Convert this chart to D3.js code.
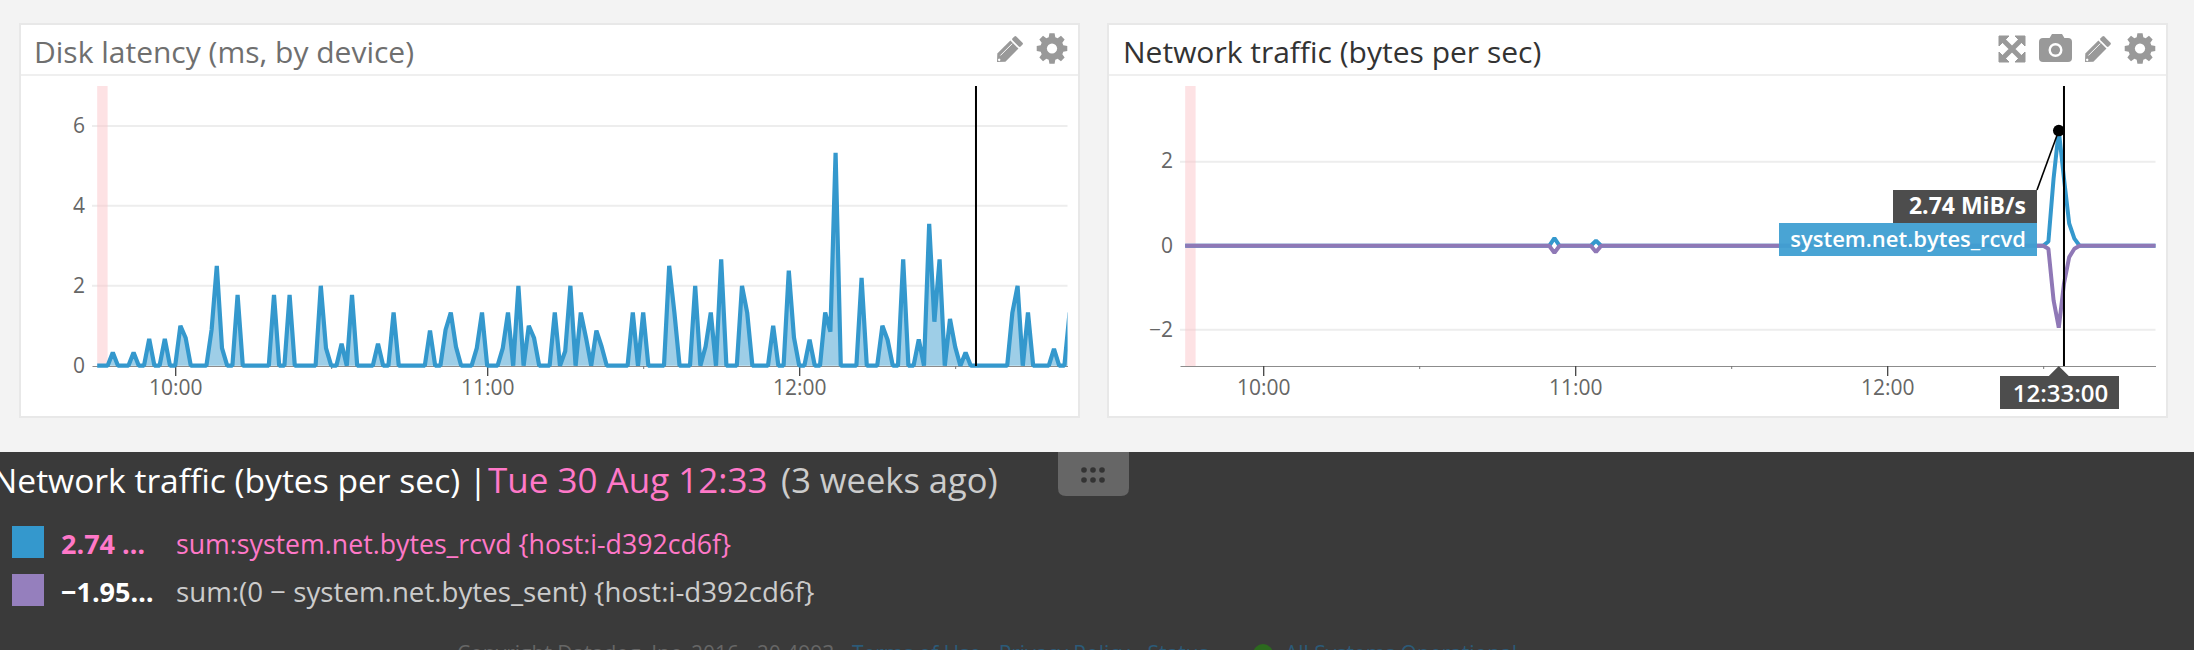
<!DOCTYPE html>
<html><head><meta charset="utf-8">
<script src="https://cdn.jsdelivr.net/npm/d3@7"></script>
<style>
html,body{margin:0;padding:0;background:#f3f3f3;overflow:hidden}
svg{display:block}
text{font-family:"Open Sans",sans-serif}
</style></head><body><svg id="c" width="2194" height="650"></svg>
<script>
// ---------- data ----------
const diskTitle = "Disk latency (ms, by device)";
const netTitle = "Network traffic (bytes per sec)";
const majorTimes = [[10,0],[11,0],[12,0]];
const minorTimes = [[10,30],[11,30],[12,30]];
const diskYTicks = [0,2,4,6];
const netYTicks = [-2,0,2];
// one sample a minute from 09:45
const diskLatency = [0,0,0,.33,0,0,0,.33,0,0,.67,0,0,.67,0,0,1,.7,0,0,0,0,.9,2.5,.44,0,0,1.77,0,0,0,0,0,0,1.77,0,0,1.77,0,0,0,0,0,2,.44,0,0,.55,0,1.77,0,0,0,0,.55,0,0,1.33,0,0,0,0,0,0,.88,0,0,.9,1.33,.47,0,0,0,.44,1.33,0,0,0,.44,1.33,0,2,0,1,.7,0,0,0,1.33,0,.36,2,0,1.33,.7,0,.88,.48,0,0,0,0,0,1.33,0,1.33,0,0,0,0,2.5,1.33,0,0,0,2,0,.48,1.33,0,2.66,0,0,0,2,1.33,0,0,0,0,1,0,0,2.38,.7,0,0,.65,0,0,1.33,.85,5.33,0,0,0,0,2.2,0,0,0,1,.65,0,0,2.66,0,0,.66,0,3.55,1.1,2.66,0,1.17,.47,0,.33,0,0,0,0,0,0,0,0,1.33,2,0,1.33,0,0,0,0,.42,0,0,1.33];
// network: minutes after 09:45 at which the flat line changes
const netMinutes = [0,70,71,72,78,79,80,165,166,167,168,169,170,171,172,187];
const netRcvd = [0,0,.18,0,0,.12,0,0,.1,1.6,2.74,1.6,.53,.17,0,0];
const netSent = [0,0,-.17,0,0,-.15,0,0,-.07,-1.3,-1.95,-.9,-.27,-.07,0,0];
const hoverLabel = "2.74 MiB/s", hoverSeries = "system.net.bytes_rcvd", hoverTime = "12:33:00";
const footTitle = "Network traffic (bytes per sec) |", footDate = "Tue 30 Aug 12:33", footAgo = "(3 weeks ago)";
const legendValues = ["2.74 …","−1.95…"];
const legendNames = ["sum:system.net.bytes_rcvd {host:i-d392cd6f}","sum:(0 − system.net.bytes_sent) {host:i-d392cd6f}"];

// ---------- helpers ----------
const BLUE="#3498cd", PURPLE="#8f78b6";
const day=(h,m)=>new Date(2016,7,30,h,m);
const fromStart=i=>day(9,45+i);
const svg=d3.select("#c");
const defs=svg.append("defs");

function panel(o){
  const g=svg.append("g");
  g.append("rect").attr("x",o.px0-1).attr("y",24).attr("width",o.px1-o.px0+2).attr("height",393)
    .attr("fill","#fff").attr("stroke","#e8e8e8").attr("stroke-width",2);
  g.append("rect").attr("x",o.px0).attr("y",74).attr("width",o.px1-o.px0).attr("height",2).attr("fill","#efefef");
  g.append("text").attr("x",o.tx).attr("y",63).attr("font-size",30).attr("fill",o.titleColor).text(o.title);

  const x=d3.scaleTime().domain([new Date(2016,7,30,9,44),new Date(2016,7,30,12,51,36)]).range([o.x0,o.x1]);
  const y=d3.scaleLinear().domain(o.yDomain).range([o.yB,86]);

  // grid
  g.append("g").selectAll("line").data(o.yTicks.filter(t=>t!==o.noGrid)).join("line")
    .attr("x1",o.x0).attr("x2",o.x1).attr("y1",d=>y(d)).attr("y2",d=>y(d))
    .attr("stroke","#ededed").attr("stroke-width",2);
  // y labels
  const ya=d3.axisLeft(y).tickValues(o.yTicks).tickSize(0).tickPadding(0).tickFormat(d=>String(d).replace("-","−"));
  const yg=g.append("g").attr("transform",`translate(${o.x0-7},0)`).call(ya);
  yg.select(".domain").remove();
  yg.selectAll("text").attr("font-size",21).attr("fill","#666").attr("font-family",'"Open Sans",sans-serif').attr("dy",".3em");
  // pink band
  g.append("rect").attr("x",x(fromStart(0))).attr("width",x(day(9,47.6))-x(fromStart(0)))
    .attr("y",86).attr("height",o.yB-86).attr("fill","#fbc6c9").attr("opacity",.5);
  // x axis
  const cid="clip"+o.id;
  defs.append("clipPath").attr("id",cid).append("rect").attr("x",o.x0).attr("y",60).attr("width",o.x1-o.x0).attr("height",o.axisY-60+2);
  const ax=d3.axisBottom(x).tickValues(majorTimes.map(t=>day(t[0],t[1]))).tickFormat(d3.timeFormat("%H:%M")).tickSize(10).tickPadding(4).tickSizeOuter(0);
  const ag=g.append("g").attr("transform",`translate(0,${o.axisY})`).call(ax);
  ag.select(".domain").attr("stroke","#8c8c8c").attr("stroke-width",1.2);
  ag.selectAll(".tick line").attr("stroke","#444").attr("stroke-width",1.3);
  ag.selectAll("text").attr("font-size",21).attr("fill","#666").attr("font-family",'"Open Sans",sans-serif');
  const minor=d3.axisBottom(x).tickValues(minorTimes.map(t=>day(t[0],t[1]))).tickFormat("").tickSize(3).tickSizeOuter(0);
  const mg=g.append("g").attr("transform",`translate(0,${o.axisY})`).call(minor);
  mg.select(".domain").remove();
  mg.selectAll(".tick line").attr("stroke","#777");
  return {g,x,y,cid};
}

function gear(g,cx,cy,R){
  const teeth=8,pts=[];
  for(let i=0;i<teeth;i++){
    const a=i/teeth*2*Math.PI-Math.PI/2, w=.21;
    [[a-w*1.35,R*.76],[a-w*.8,R],[a+w*.8,R],[a+w*1.35,R*.76]].forEach(p=>pts.push([cx+p[1]*Math.cos(p[0]),cy+p[1]*Math.sin(p[0])]));
  }
  g.append("path").attr("d",d3.line()(pts)+"Z").attr("fill","#999");
  g.append("circle").attr("cx",cx).attr("cy",cy).attr("r",R*.33).attr("fill","#fff");
}
function pencil(g,x,y){ // x,y = lower-left tip
  const p=g.append("g").attr("transform",`translate(${x},${y}) rotate(-45) scale(.88)`);
  p.append("path").attr("d","M0,0 L7,-6.5 L28,-6.5 L28,6.5 L7,6.5 Z").attr("fill","#999");
  p.append("rect").attr("x",30).attr("y",-6.5).attr("width",6).attr("height",13).attr("rx",1.5).attr("fill","#999");
  p.append("path").attr("d","M8,-2.5 L27,-2.5").attr("stroke","#fff").attr("stroke-width",1);
  p.append("circle").attr("cx",3.5).attr("cy",0).attr("r",1.4).attr("fill","#fff");
}
function camera(g,x,y){
  g.append("path").attr("d",`M${x+10},${y+5} L${x+13},${y} L${x+23},${y} L${x+26},${y+5} Z`).attr("fill","#999");
  g.append("rect").attr("x",x).attr("y",y+4).attr("width",33).attr("height",24).attr("rx",4).attr("fill","#999");
  g.append("circle").attr("cx",x+16.5).attr("cy",y+16).attr("r",7).attr("fill","#fff");
  g.append("circle").attr("cx",x+16.5).attr("cy",y+16).attr("r",4.6).attr("fill","#999");
}
function expand(g,x,y){
  const s=26,h=10;
  g.append("path").attr("d",`M${x+3},${y+3} L${x+s-3},${y+s-3} M${x+s-3},${y+3} L${x+3},${y+s-3}`).attr("stroke","#999").attr("stroke-width",5);
  [[x,y,1,1],[x+s,y,-1,1],[x,y+s,1,-1],[x+s,y+s,-1,-1]].forEach(c=>{
    g.append("path").attr("d",`M${c[0]},${c[1]} L${c[0]+c[2]*h},${c[1]} L${c[0]},${c[1]+c[3]*h} Z`).attr("fill","#999").attr("stroke","#999").attr("stroke-width",1);
  });
}

// ---------- disk panel ----------
const a=panel({id:"d",px0:21,px1:1078,tx:34,title:diskTitle,titleColor:"#6f6f6f",x0:92,x1:1067.5,yDomain:[0,7],yB:365.7,axisY:366,yTicks:diskYTicks,noGrid:0});
const dpts=diskLatency.map((v,i)=>[fromStart(i),v]);
const dg=a.g.append("g").attr("clip-path",`url(#${a.cid})`);
dg.append("path").datum(dpts).attr("d",d3.area().x(d=>a.x(d[0])).y0(a.y(0)).y1(d=>a.y(d[1])))
  .attr("fill",BLUE).attr("fill-opacity",.48);
dg.append("path").datum(dpts).attr("d",d3.line().x(d=>a.x(d[0])).y(d=>a.y(d[1])))
  .attr("fill","none").attr("stroke",BLUE).attr("stroke-width",4.2).attr("stroke-linejoin","bevel");
a.g.append("line").attr("x1",a.x(day(12,34))).attr("x2",a.x(day(12,34))).attr("y1",86).attr("y2",366).attr("stroke","#000").attr("stroke-width",2);
pencil(a.g,997,62); gear(a.g,1052,48.5,15.5);

// ---------- network panel ----------
const b=panel({id:"n",px0:1109,px1:2166,tx:1123,title:netTitle,titleColor:"#333",x0:1180,x1:2155.5,yDomain:[-2.86,3.8],yB:366,axisY:366,yTicks:netYTicks,noGrid:0});
const lineN=d3.line().x(d=>b.x(d[0])).y(d=>b.y(d[1]));
const ng=b.g.append("g").attr("clip-path",`url(#${b.cid})`);
ng.append("path").datum(netMinutes.map((m,i)=>[fromStart(m),netRcvd[i]])).attr("d",lineN).attr("fill","none").attr("stroke",BLUE).attr("stroke-width",4).attr("stroke-linejoin","bevel");
ng.append("path").datum(netMinutes.map((m,i)=>[fromStart(m),netSent[i]])).attr("d",lineN).attr("fill","none").attr("stroke",PURPLE).attr("stroke-width",4).attr("stroke-linejoin","bevel");
b.g.append("line").attr("x1",b.x(day(12,34))).attr("x2",b.x(day(12,34))).attr("y1",86).attr("y2",366).attr("stroke","#000").attr("stroke-width",2);
const hx=b.x(day(12,33)), hy=b.y(2.74);
b.g.append("line").attr("x1",hx).attr("y1",hy).attr("x2",2037).attr("y2",190).attr("stroke","#000").attr("stroke-width",1.6);
b.g.append("circle").attr("cx",hx).attr("cy",hy).attr("r",5.8).attr("fill","#000");
b.g.append("rect").attr("x",1893).attr("y",190).attr("width",144).attr("height",33).attr("fill","#4d4d4d");
b.g.append("text").attr("x",2026).attr("y",214).attr("text-anchor","end").attr("font-size",23).attr("font-weight",700).attr("fill","#fff").text(hoverLabel);
b.g.append("rect").attr("x",1779).attr("y",223).attr("width",258).attr("height",33).attr("fill","#3f9fd2").attr("fill-opacity",.95);
b.g.append("text").attr("x",2026).attr("y",247).attr("text-anchor","end").attr("font-size",22).attr("font-weight",600).attr("fill","#fff").text(hoverSeries);
b.g.append("path").attr("d",`M${hx-10},376 L${hx},366 L${hx+10},376 Z`).attr("fill","#4d4d4d");
b.g.append("rect").attr("x",2000).attr("y",376).attr("width",119).attr("height",33).attr("fill","#4d4d4d");
b.g.append("text").attr("x",2060.5).attr("y",401.5).attr("text-anchor","middle").attr("font-size",24).attr("font-weight",600).attr("fill","#fff").text(hoverTime);
expand(b.g,1999,36); camera(b.g,2039,34); pencil(b.g,2085,62); gear(b.g,2140,48.5,15.5);

// ---------- footer ----------
const f=svg.append("g");
f.append("rect").attr("x",0).attr("y",452).attr("width",2194).attr("height",198).attr("fill","#3a3a3a");
f.append("path").attr("d","M1058,452 L1129,452 L1129,488 Q1129,496 1121,496 L1066,496 Q1058,496 1058,488 Z").attr("fill","#666");
[1084,1093,1102].forEach(cx=>[470,480].forEach(cy=>f.append("circle").attr("cx",cx).attr("cy",cy).attr("r",2.8).attr("fill","#333")));
f.append("text").attr("x",-8).attr("y",493).attr("font-size",33.6).attr("fill","#fff").text(footTitle);
f.append("text").attr("x",488).attr("y",493).attr("font-size",35).attr("fill","#ff78c8").text(footDate);
f.append("text").attr("x",781).attr("y",493).attr("font-size",34.5).attr("fill","#ccc").text(footAgo);
[[526,BLUE,"#ff78c8","#ff78c8",26.7],[574,"#957fbd","#fff","#ccc",27.7]].forEach((s,i)=>{
  f.append("rect").attr("x",12).attr("y",s[0]).attr("width",32).attr("height",32).attr("fill",s[1]);
  f.append("text").attr("x",61).attr("y",s[0]+28).attr("font-size",27).attr("font-weight",700).attr("fill",s[2]).text(legendValues[i]);
  f.append("text").attr("x",176).attr("y",s[0]+28).attr("font-size",s[4]).attr("fill",s[3]).text(legendNames[i]);
});
const copy=f.append("text").attr("x",457).attr("y",661).attr("font-size",21);
copy.append("tspan").attr("fill","#666").text("Copyright Datadog, Inc. 2016 - 20.4993 - ");
copy.append("tspan").attr("fill","#2c5a78").text("Terms of Use - Privacy Policy - Status");
f.append("circle").attr("cx",1263).attr("cy",654).attr("r",10).attr("fill","#2c6a1e");
f.append("text").attr("x",1285).attr("y",661).attr("font-size",21).attr("fill","#2c5a78").text("All Systems Operational");
</script></body></html>
